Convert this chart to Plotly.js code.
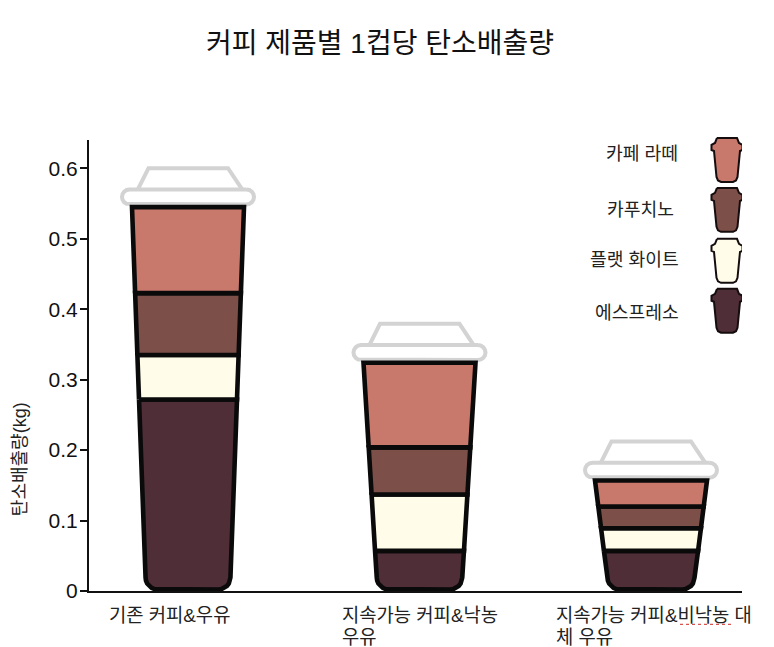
<!DOCTYPE html>
<html><head><meta charset="utf-8">
<script src="https://cdn.plot.ly/plotly-3.0.1.min.js"></script>
<style>html,body{margin:0;padding:0;background:#fff}</style></head>
<body><div id="chart" style="width:774px;height:647px"></div>
<script>
// ---- data (kg CO2 per cup) ----
const categories = ['기존 커피&우유', '지속가능 커피&낙농<br>우유', '지속가능 커피&비낙농 대<br>체 우유'];
const seriesNames = ['에스프레소', '플랫 화이트', '카푸치노', '카페 라떼'];
const espresso   = [0.272, 0.057, 0.057];
const flatWhite  = [0.063, 0.080, 0.032];
const cappuccino = [0.088, 0.067, 0.031];
const latte      = [0.122, 0.120, 0.037];
const seriesColors = ['#4f2e38', '#fffde9', '#7d4f49', '#c8796c'];
const yTicks = [0, 0.1, 0.2, 0.3, 0.4, 0.5, 0.6];
const yTickText = ['0', '0.1', '0.2', '0.3', '0.4', '0.5', '0.6'];
const legendOrder = [3, 2, 1, 0];

// ---- layout geometry ----
const W = 774, H = 647, L = 89, R = 742, T = 140, B = 591.5, Top = 100;
const pxPerX = 231.5, pxPerY = 705, x0Px = 188;
const xRange = [(L - x0Px) / pxPerX, (R - x0Px) / pxPerX];
const yRange = [0, (B - T) / pxPerY];
const dx = p => p / pxPerX, dy = p => p / pxPerY;
const paperX = p => (p - L) / (R - L), paperY = p => (B - p) / (B - Top);

const hwTop = dx(56), hwBot = dx(42), floorY = dy(1.5), rad = 12;
function arc(cx, cy, a0, a1) {
  const out = [];
  for (let i = 0; i <= 6; i++) {
    const a = (a0 + (a1 - a0) * i / 6) * Math.PI / 180;
    out.push([cx + dx(rad) * Math.cos(a), cy + dy(rad) * Math.sin(a)]);
  }
  return out;
}
const traces = [];
const stacks = [espresso, flatWhite, cappuccino, latte];
categories.forEach((cat, c) => {
  const total = stacks.reduce((s, a) => s + a[c], 0);
  const hw = v => hwBot + (hwTop - hwBot) * v / total;
  let base = 0;
  // lid first, so the cup's top edge sits over it
  const rimB = dy(2.5), rimT = dy(18), rh = dx(66), r = 7.5;
  const rim = [];
  [[c + rh - dx(r), total + (rimB + rimT) / 2, 90, -90], [c - rh + dx(r), total + (rimB + rimT) / 2, -90, -270]].forEach(a => {
    for (let i = 0; i <= 8; i++) {
      const t = (a[2] + (a[3] - a[2]) * i / 8) * Math.PI / 180;
      rim.push([a[0] + dx(r) * Math.cos(t), a[1] + dy(r) * Math.sin(t)]);
    }
  });
  rim.push(rim[0]);
  const dome = [[c - dx(50), total + rimT], [c - dx(39.5), total + dy(39)], [c + dx(40), total + dy(39)], [c + dx(54), total + rimT]];
  traces.push({ type: 'scatter', mode: 'lines', x: dome.map(p => p[0]), y: dome.map(p => p[1]), yaxis: 'y2',
    line: { color: '#d3d3d3', width: 4 }, showlegend: false, hoverinfo: 'skip', cliponaxis: false });
  traces.push({ type: 'scatter', mode: 'lines', x: rim.map(p => p[0]), y: rim.map(p => p[1]), yaxis: 'y2',
    fill: 'toself', fillcolor: '#ffffff', line: { color: '#d3d3d3', width: 4 }, showlegend: false, hoverinfo: 'skip', cliponaxis: false });

  stacks.forEach((vals, s) => {
    const top = base + vals[c];
    let pts;
    if (s === 0) {
      const hb = hw(dy(rad));
      pts = [[c - hw(top), top], [c + hw(top), top], [c + hb, floorY + dy(rad)]]
        .concat(arc(c + hb - dx(rad), floorY + dy(rad), 0, -90))
        .concat(arc(c - hb + dx(rad), floorY + dy(rad), -90, -180))
        .concat([[c - hw(top), top]]);
    } else {
      pts = [[c - hw(base), base], [c - hw(top), top], [c + hw(top), top], [c + hw(base), base], [c - hw(base), base]];
    }
    traces.push({
      type: 'scatter', mode: 'lines', x: pts.map(p => p[0]), y: pts.map(p => p[1]), yaxis: 'y2',
      fill: 'toself', fillcolor: seriesColors[s], line: { color: '#0a0a0a', width: 4.6 },
      name: seriesNames[s] + ' · ' + cat.replace('<br>', ' '), showlegend: false,
      hoverinfo: 'text', text: seriesNames[s] + ': ' + vals[c], cliponaxis: false
    });
    base = top;
  });
});
// keep the visible axis's subplot present
traces.push({ type: 'scatter', mode: 'markers', x: [], y: [], showlegend: false, hoverinfo: 'skip' });

// ---- legend drawn as small cups ----
const iconCx = 727, iconCy = [160, 210, 261, 311];
const icon = [[-10,-22],[10,-22],[12,-17],[15.5,-15],[15.5,-10],[13,-9],[10.5,17],[9,20.5],[6,22],[-6,22],[-9,20.5],[-10.5,17],[-13,-9],[-15.5,-10],[-15.5,-15],[-12,-17],[-10,-22]];
const annotations = [];
const legendRight = [680, 676, 681, 681];
const legendTextY = [154, 210, 260, 313];
const krFont = '"Liberation Sans","Noto Sans CJK KR"';
legendOrder.forEach((s, i) => {
  traces.push({ type: 'scatter', mode: 'lines', yaxis: 'y2',
    x: icon.map(p => (iconCx + p[0] - x0Px) / pxPerX),
    y: icon.map(p => (B - iconCy[i] - p[1]) / pxPerY),
    fill: 'toself', fillcolor: seriesColors[s], line: { color: '#150c0e', width: 2 },
    showlegend: false, hoverinfo: 'text', text: seriesNames[s], cliponaxis: false });
  annotations.push({ xref: 'paper', yref: 'paper', x: paperX(legendRight[i]), y: paperY(legendTextY[i]),
    xanchor: 'right', yanchor: 'middle', text: seriesNames[s], showarrow: false,
    font: { size: 18.2, color: '#222', family: krFont } });
});

// ---- category labels, left-aligned under the cups, one annotation per line ----
const catLeft = [107, 340, 554], catLineY = [616, 638];
categories.forEach((t, i) => t.split('<br>').forEach((line, j) => annotations.push({
  xref: 'paper', yref: 'paper', x: paperX(catLeft[i]), y: paperY(catLineY[j]), xanchor: 'left', yanchor: 'middle',
  align: 'left', text: line, showarrow: false,
  font: { size: 18.8, color: '#222', family: krFont }
})));
annotations.push({ xref: 'paper', yref: 'paper', x: paperX(19.5), y: paperY(460), xanchor: 'center', yanchor: 'middle',
  text: '탄소배출량(kg)', textangle: -90, showarrow: false, font: { size: 18, color: '#222', family: krFont } });

const layout = {
  width: W, height: H, showlegend: false, paper_bgcolor: '#fff', plot_bgcolor: '#fff',
  margin: { l: L, r: W - R, t: Top, b: H - B, autoexpand: false },
  title: { text: '커피 제품별 1컵당 탄소배출량', x: 380 / W, xanchor: 'center', y: 1 - 43.5 / H, yanchor: 'middle',
    font: { size: 28, color: '#111', family: '"Liberation Sans","Noto Sans CJK KR"' } },
  xaxis: { range: xRange, showgrid: false, zeroline: false, showline: true, linecolor: '#111', linewidth: 2,
    showticklabels: false, ticks: '', fixedrange: true, anchor: 'y' },
  yaxis: { range: yRange, domain: [0, (B - T) / (B - Top)], showgrid: false, zeroline: false, showline: true, linecolor: '#111', linewidth: 2,
    tickmode: 'array', tickvals: yTicks, ticktext: yTickText, ticks: 'outside', ticklen: 7, tickwidth: 2, tickcolor: '#111',
    ticklabelstandoff: -2, tickfont: { size: 21, color: '#111', family: '"Liberation Sans"' }, fixedrange: true, anchor: 'x' },
  yaxis2: { range: [0, (B - Top) / pxPerY], domain: [0, 1], visible: false, fixedrange: true, anchor: 'x' },
  shapes: [{ type: 'line', xref: 'paper', yref: 'paper', x0: paperX(680), x1: paperX(733), y0: paperY(625), y1: paperY(625),
    line: { color: '#d9534f', width: 1.2, dash: 'dot' } }],
  annotations: annotations
};
Plotly.newPlot('chart', traces, layout, { displayModeBar: false, responsive: false });
</script></body></html>
